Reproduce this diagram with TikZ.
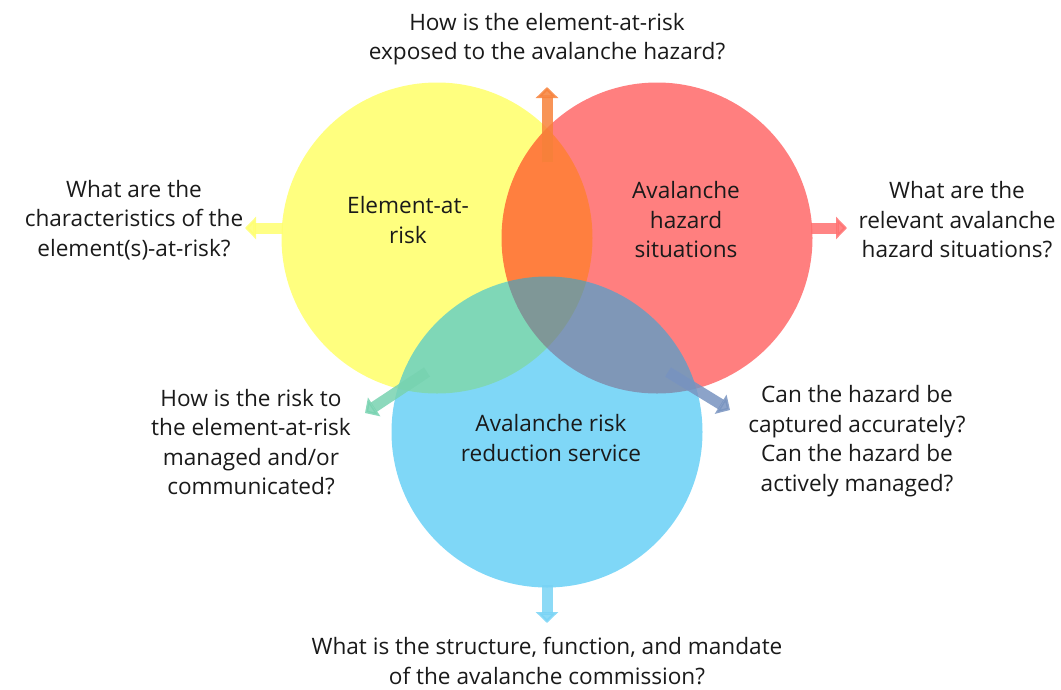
\documentclass[tikz,border=0pt]{standalone}
\usepackage{fontspec}
\setmainfont{Open Sans}
\usetikzlibrary{arrows.meta}
\definecolor{cyel}{HTML}{FFFF00}
\definecolor{cred}{HTML}{FF0000}
\definecolor{cblu}{HTML}{00B0F0}
\definecolor{aora}{HTML}{F7813A}
\definecolor{ayel}{HTML}{FFFF70}
\definecolor{ared}{HTML}{FF7070}
\definecolor{agrn}{HTML}{78D2B0}
\definecolor{agry}{HTML}{7893C0}
\definecolor{ablu}{HTML}{78D3F5}
\definecolor{txt}{HTML}{1A1A1A}
\tikzset{
  set/.style={circle, minimum size=311pt, inner sep=0pt, fill=#1, fill opacity=0.5, draw=none},
  lbl/.style={align=center, text=txt, inner sep=0pt,
    font=\fontsize{22.6}{29.5}\selectfont},
  arr/.style={draw=#1, line width=11pt, opacity=0.85,
    -{Triangle[width=22pt,length=11pt]}}
}
\begin{document}
\begin{tikzpicture}[x=1pt,y=-1pt]
\useasboundingbox (0,0) rectangle (1061,689);
% the three overlapping sets
\node[set=cyel] (ear) at (437,238) {};
\node[set=cred] (haz) at (657,238) {};
\node[set=cblu] (svc) at (547,432) {};

% arrow anchors
\coordinate (upS) at (547,162);
\coordinate (upE) at (547,87);
\coordinate (lfS) at (283,228);
\coordinate (lfE) at (245,228);
\coordinate (rtS) at (811,228);
\coordinate (rtE) at (847,228);
\coordinate (llS) at (427,372);
\coordinate (llE) at (365,413);
\coordinate (lrS) at (668,372);
\coordinate (lrE) at (730,410);
\coordinate (dnS) at (547,585);
\coordinate (dnE) at (547,623);

\draw[arr=aora] (upS) -- (upE);
\draw[arr=ayel] (lfS) -- (lfE);
\draw[arr=ared] (rtS) -- (rtE);
\draw[arr=agrn] (llS) -- (llE);
\draw[arr=agry] (lrS) -- (lrE);
\draw[arr=ablu] (dnS) -- (dnE);

% labels inside the sets
\node[lbl] (tEar) at (408,220) {Element-at-\\risk};
\node[lbl] (tHaz) at (686,220) {Avalanche\\hazard\\situations};
\node[lbl] (tSvc) at (551,438) {Avalanche risk\\reduction service};

% questions around the diagram
\node[lbl] (qTop) at (547,39) {How is the element-at-risk\\exposed to the avalanche hazard?};
\node[lbl] (qLft) at (134,220) {What are the\\characteristics of the\\element(s)-at-risk?};
\node[lbl] (qRgt) at (957,220) {What are the\\relevant avalanche\\hazard situations?};
\node[lbl] (qLL) at (251,442) {How is the risk to\\the element-at-risk\\managed and/or\\communicated?};
\node[lbl] (qLR) at (857,441) {Can the hazard be\\captured accurately?\\Can the hazard be\\actively managed?};
\node[lbl] (qBot) at (547,661) {What is the structure, function, and mandate\\of the avalanche commission?};
\end{tikzpicture}
\end{document}
